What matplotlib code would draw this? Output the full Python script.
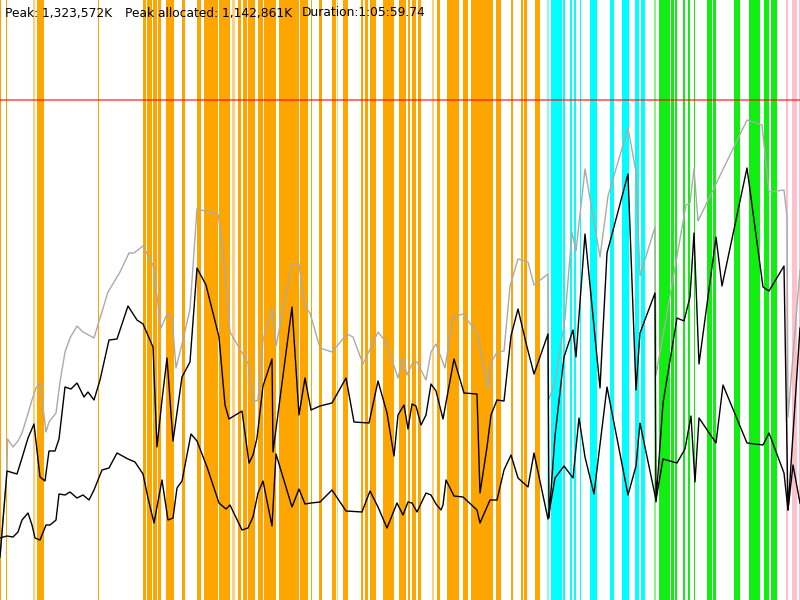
import numpy as np
from matplotlib import pyplot as plt

# vertical event bands (start, end) along the time axis
orange_bands = [(0, 1.3), (6, 7), (37, 44), (98, 99), (143, 146.3), (146.8, 152.3), (152.8, 157.3),
                (157.8, 161), (166, 174), (182, 185), (197, 201), (204, 218), (219, 230),
                (238, 241), (243, 247), (248, 255), (258, 263), (264, 276), (279, 299),
                (300, 308), (311, 312), (319, 322), (332, 336), (343, 348), (361, 363),
                (365, 368), (370, 376), (383, 394), (399, 406), (408, 410), (412, 416),
                (418, 421), (437, 440), (447, 459), (463, 468), (471, 493), (496, 501),
                (511, 513), (521, 523), (524, 527), (535, 540)]
orange_light = [(33, 35), (232, 235), (337, 338), (432, 434)]
cyan_bands = [(551, 562), (563, 565), (570, 572), (574, 576), (580, 581), (590, 597),
              (610, 614), (622, 629), (635, 639), (641, 645)]
cyan_light = [(547, 549)]
green_bands = [(659, 666.5), (667.2, 670), (671, 674), (675, 677), (683, 685), (688, 690),
               (694, 695), (707, 712), (713, 716), (734, 740), (749, 752.6), (753.2, 756.6),
               (757.2, 760), (764, 769), (771, 777)]
green_light = [(654, 656)]
pink_bands = [(786, 788), (792, 797), (799, 800)]

peak_level = 100

# gray series
gray_x = [0, 7, 7.5, 13, 18, 22, 27, 32, 36, 40, 46, 49, 56, 60, 65, 70, 77, 83, 94, 100, 108,
          120, 129, 134, 143, 153, 161, 167, 172, 176, 183, 190, 197, 218, 223, 230, 248,
          253, 258, 263, 272, 276, 292, 299, 305, 310, 320, 332, 347, 353, 363, 378, 386,
          398, 403, 407, 413, 417, 426, 431, 436, 445, 453, 463, 477, 488, 490, 497, 504,
          510, 518, 528, 534, 548, 548.5, 555, 565, 572, 576, 585, 600, 608, 628, 636, 640,
          655, 656, 686, 690, 694, 698, 747, 762, 769, 784, 787, 788, 800]
gray_y = [557, 471, 439, 447, 441, 433, 417, 400, 388, 383, 432, 422, 413, 382, 352, 338, 326,
          332, 338, 318, 292, 272, 253, 253, 246, 265, 328, 314, 317, 368, 340, 309, 209,
          214, 250, 332, 363, 402, 400, 340, 308, 346, 264, 264, 307, 313, 348, 352, 334,
          337, 364, 332, 342, 378, 358, 375, 362, 362, 380, 352, 344, 368, 317, 314, 333,
          389, 365, 352, 351, 286, 259, 262, 285, 274, 400, 383, 318, 232, 251, 169, 257,
          196, 128, 172, 276, 227, 375, 205, 203, 169, 221, 120, 125, 192, 190, 217, 417,
          270]

# upper black series
upper_x = [0, 7, 17, 22, 28, 34, 40, 45, 49, 55, 59, 65, 71, 77, 84, 88, 94, 100, 109, 117,
           128, 137, 143, 153, 157, 162, 167, 173, 182, 190, 197, 206, 219, 225, 229, 242,
           249, 253, 257, 263, 272, 273, 292, 299, 305, 311, 320, 332, 346, 354, 369, 378,
           387, 394, 398, 404, 408, 412, 416, 421, 426, 431, 436, 443, 454, 464, 477, 480,
           487, 491, 497, 504, 511, 518, 527, 534, 548, 549, 555, 564, 573, 576, 585, 600,
           607, 628, 636, 640, 655, 656, 663, 677, 684, 690, 694, 699, 716, 722, 747, 763,
           769, 784, 788, 800]
upper_y = [557, 471, 474, 458, 438, 424, 477, 481, 451, 451, 439, 387, 389, 383, 397, 392,
           400, 380, 340, 339, 306, 320, 324, 347, 447, 400, 358, 441, 377, 362, 268, 285,
           337, 405, 419, 411, 463, 455, 438, 386, 359, 452, 307, 415, 378, 410, 406, 403,
           378, 422, 423, 381, 413, 456, 415, 405, 429, 404, 406, 425, 415, 384, 391, 419,
           359, 393, 394, 493, 447, 415, 400, 401, 336, 309, 347, 374, 334, 518, 436, 357,
           330, 357, 234, 388, 253, 174, 390, 333, 293, 502, 403, 318, 321, 297, 233, 364,
           237, 286, 168, 287, 291, 266, 510, 328]

# lower black series
lower_x = [0, 7, 13, 18, 22, 28, 32, 35, 40, 46, 50, 56, 59, 65, 70, 77, 83, 89, 94, 102,
           109, 117, 128, 135, 143, 148, 154, 162, 168, 173, 177, 182, 191, 197, 207, 219,
           226, 230, 242, 248, 253, 258, 263, 272, 276, 292, 299, 305, 311, 320, 332, 346,
           362, 370, 378, 387, 397, 403, 408, 412, 417, 426, 431, 436, 441, 443, 446, 454,
           463, 477, 480, 490, 497, 504, 511, 518, 528, 534, 548, 555, 564, 573, 579, 585,
           594, 607, 628, 636, 640, 656, 663, 677, 685, 691, 695, 699, 716, 723, 747, 763,
           769, 784, 788, 793, 800]
lower_y = [538, 536, 537, 532, 520, 513, 525, 538, 540, 525, 525, 520, 494, 495, 492, 498,
           495, 500, 490, 470, 468, 453, 459, 462, 474, 498, 523, 480, 520, 518, 488, 481,
           434, 441, 467, 503, 509, 505, 530, 528, 517, 493, 481, 526, 454, 507, 489, 504,
           503, 502, 490, 511, 512, 491, 507, 528, 503, 515, 502, 503, 512, 493, 495, 504,
           510, 505, 480, 496, 497, 510, 523, 500, 500, 470, 455, 478, 487, 453, 519, 478,
           466, 478, 418, 457, 494, 387, 495, 466, 423, 500, 459, 463, 449, 416, 482, 418,
           443, 385, 443, 445, 433, 473, 510, 465, 503]


def draw_bands(ax, bands, color, alpha=1.0):
    for start, end in bands:
        ax.axvspan(start, end, color=color, alpha=alpha, lw=0, zorder=1)


fig = plt.figure(figsize=(8, 6), dpi=100)
ax = fig.add_axes([0, 0, 1, 1])

draw_bands(ax, orange_bands, '#ffa500')
draw_bands(ax, orange_light, '#ffa500', 0.5)
draw_bands(ax, cyan_bands, '#00ffff')
draw_bands(ax, cyan_light, '#00ffff', 0.5)
draw_bands(ax, green_bands, '#11ee11')
draw_bands(ax, green_light, '#11ee11', 0.5)
draw_bands(ax, pink_bands, '#ffc0cb')

ax.axhline(peak_level, color='#ff0000', alpha=0.6, lw=1.3, zorder=2)

ax.plot(gray_x, gray_y, color='#aaaaaa', lw=1, zorder=3)
ax.plot(upper_x, upper_y, color='black', lw=1, zorder=4)
ax.plot(lower_x, lower_y, color='black', lw=1, zorder=4)

ax.text(5, 13, 'Peak: 1,323,572K', fontsize=8.8, va='center', zorder=5)
ax.text(125, 13, 'Peak allocated: 1,142,861K', fontsize=8.8, va='center', zorder=5)
ax.text(302, 13, 'Duration:1:05:59.74', fontsize=8.8, va='center', zorder=5)

ax.set_xlim(0, 800)
ax.set_ylim(600, 0)
ax.axis('off')

plt.savefig('out.png', dpi=100)
